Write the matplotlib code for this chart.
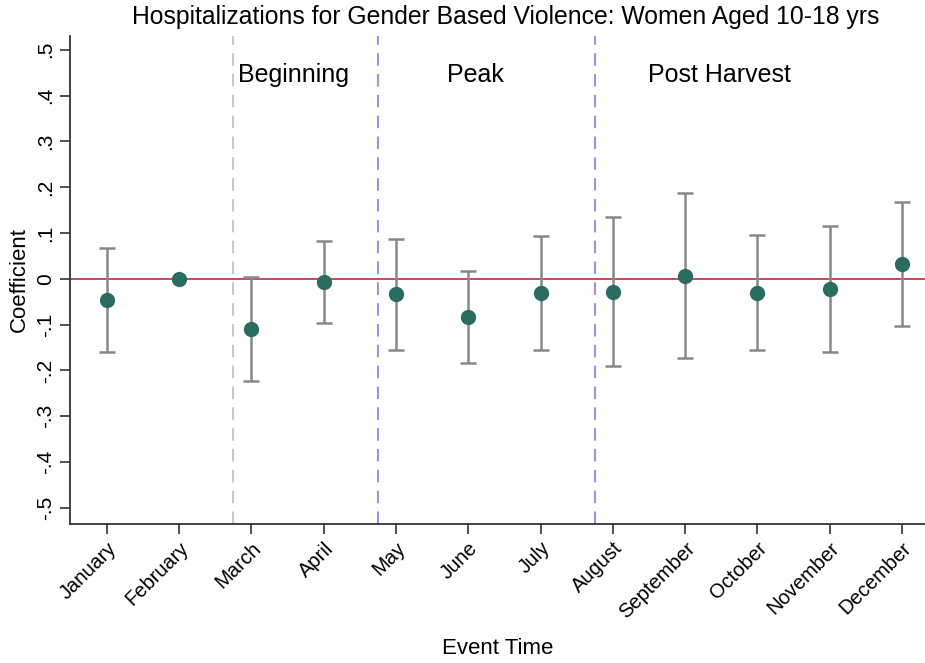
import matplotlib
matplotlib.use("Agg")
import matplotlib.pyplot as plt
import numpy as np

months = ["January", "February", "March", "April", "May", "June", "July",
          "August", "September", "October", "November", "December"]
coef = [-0.046, 0.0, -0.109, -0.007, -0.033, -0.083, -0.031, -0.028, 0.007, -0.030, -0.022, 0.032]
ci_low = [-0.159, 0.0, -0.223, -0.096, -0.155, -0.183, -0.155, -0.190, -0.172, -0.156, -0.159, -0.103]
ci_high = [0.068, 0.0, 0.005, 0.083, 0.087, 0.017, 0.094, 0.134, 0.187, 0.096, 0.115, 0.167]
yticks = [-0.5, -0.4, -0.3, -0.2, -0.1, 0, 0.1, 0.2, 0.3, 0.4, 0.5]
ytick_labels = ["-.5", "-.4", "-.3", "-.2", "-.1", "0", ".1", ".2", ".3", ".4", ".5"]
phase_lines = [2.75, 4.75, 7.75]
phase_colors = ["#c8c8c8", "#9d93de", "#9d93de"]
phase_names = ["Beginning", "Peak", "Post Harvest"]
phase_text_x = [2.82, 5.71, 8.49]

plt.rcParams['font.family'] = ['Liberation Sans', 'DejaVu Sans']

fig = plt.figure(figsize=(9.25, 6.63), dpi=100)
ax = fig.add_axes([0.0757, 0.2097, 0.9243, 0.736])

x = np.arange(1, len(months) + 1)
coef_a = np.array(coef)
lo = np.array(ci_low)
hi = np.array(ci_high)

ax.axhline(0, color="#c8385a", lw=1.3, zorder=1)
for xv, c in zip(phase_lines, phase_colors):
    ax.axvline(xv, color=c, lw=1.5, dashes=(6, 4), zorder=1)

mask = hi - lo > 0
ax.errorbar(x[mask], coef_a[mask], yerr=[coef_a[mask] - lo[mask], hi[mask] - coef_a[mask]],
            fmt="none", ecolor="#888888", elinewidth=1.8, capsize=6, capthick=1.8, zorder=2)
ax.plot(x, coef_a, "o", color="#2a6b62", markersize=11, zorder=3, markeredgewidth=0)

for tx, name in zip(phase_text_x, phase_names):
    ax.text(tx, 0.445, name, fontsize=18, va="center", ha="left", color="black")

ax.set_xlim(0.49, 12.32)
ax.set_ylim(-0.535, 0.53)
ax.set_xticks(x)
ax.set_xticklabels(months, rotation=45, ha="right", rotation_mode="anchor", fontsize=14.5)
ax.set_yticks(yticks)
ax.set_yticklabels(ytick_labels, rotation=90, va="center", fontsize=15)
ax.tick_params(axis="both", direction="out", length=7, width=1.2, color="#333333")
for s in ["top", "right"]:
    ax.spines[s].set_visible(False)
for s in ["left", "bottom"]:
    ax.spines[s].set_color("#333333")
    ax.spines[s].set_linewidth(1.3)

ax.set_ylabel("Coefficient", fontsize=16, labelpad=5)
ax.set_xlabel("Event Time", fontsize=16, labelpad=12)
fig.suptitle("Hospitalizations for Gender Based Violence: Women Aged 10-18 yrs",
             fontsize=17.8, x=0.547, y=0.992, va="top")

fig.savefig("out.png", dpi=100)
